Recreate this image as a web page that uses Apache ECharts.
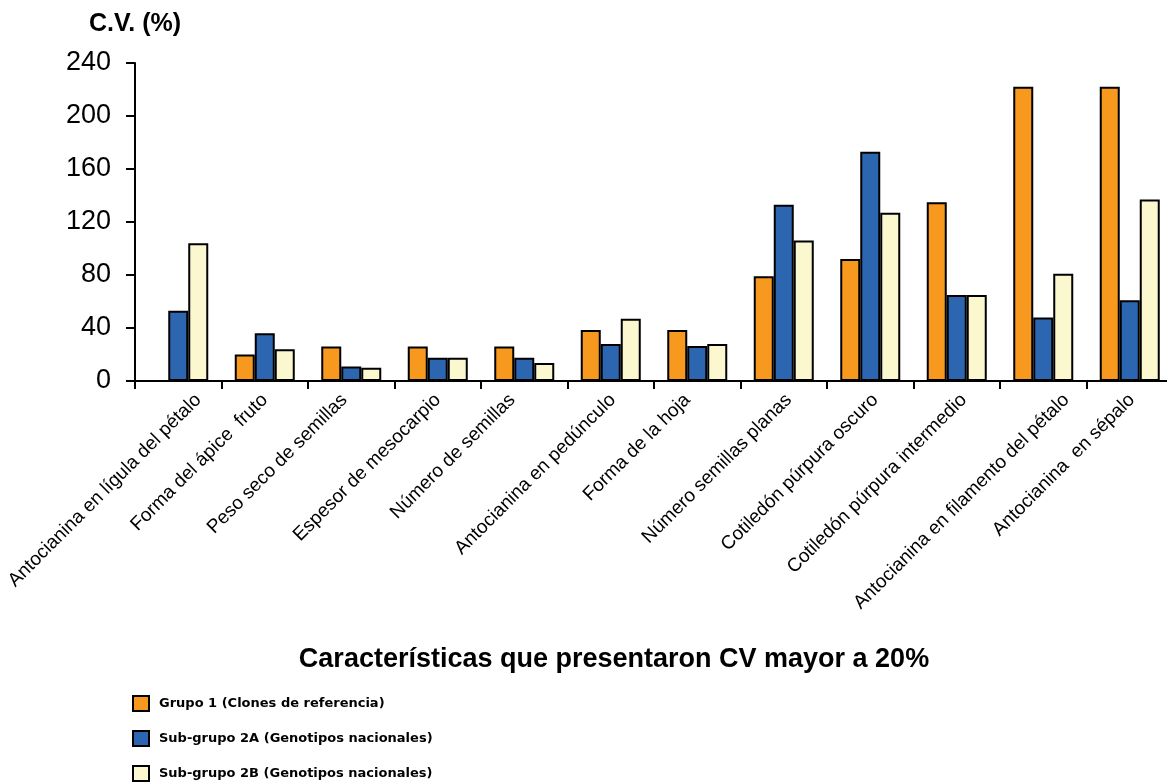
<!DOCTYPE html>
<html>
<head>
<meta charset="utf-8">
<script src="https://cdn.jsdelivr.net/npm/echarts@6/dist/echarts.min.js"></script>
<style>
html,body{margin:0;padding:0;background:#fff;}
#chart{width:1167px;height:784px;}
</style>
</head>
<body>
<div id="chart"></div>
<script>
const categories = [
  "Antocianina en lígula del pétalo",
  "Forma del ápice  fruto",
  "Peso seco de semillas",
  "Espesor de mesocarpio",
  "Número de semillas",
  "Antocianina en pedúnculo",
  "Forma de la hoja",
  "Número semillas planas",
  "Cotiledón púrpura oscuro",
  "Cotiledón púrpura intermedio",
  "Antocianina en filamento del pétalo",
  "Antocianina  en sépalo"
];
const seriesNames = [
  "Grupo 1 (Clones de referencia)",
  "Sub-grupo 2A (Genotipos nacionales)",
  "Sub-grupo 2B (Genotipos nacionales)"
];
const grupo1 = [null, 20, 26, 26, 26, 38.5, 38.5, 79, 92, 135, 222, 222];
const subgrupo2A = [53, 36, 11, 17.5, 17.5, 28, 26.5, 133, 173, 65, 48, 61];
const subgrupo2B = [104, 24, 10, 17.5, 13.5, 47, 28, 106, 127, 65, 81, 137];
const yTicks = { min: 0, max: 240, interval: 40 };
const yAxisTitle = "C.V. (%)";
const xAxisTitle = "Características que presentaron CV mayor a 20%";

// styling: horizontal nudge (px) of each rotated category label, as in the source figure
const labelNudge = [20, 0, -7, 0, -12, 2, -10, 5, 5, 7, 23, 2];

const colors = ["#F7991F", "#2D66B0", "#FBF8D0"];
const font = "'Liberation Sans', Arial, sans-serif";

const chart = echarts.init(document.getElementById('chart'), null, {renderer: 'canvas'});
const values = [grupo1, subgrupo2A, subgrupo2B];

const rich = {};
labelNudge.forEach((n, i) => {
  const d = n * Math.SQRT1_2;
  rich['n' + i] = {
    fontFamily: font, fontSize: 19, color: '#000',
    padding: [d > 0 ? 2 * d : 0, -d, d < 0 ? -2 * d : 0, 0]
  };
});

chart.setOption({
  backgroundColor: '#ffffff',
  animation: false,
  grid: { left: 135, top: 63, bottom: 403, width: 1038, containLabel: false, outerBoundsMode: 'none' },
  legend: {
    orient: 'vertical',
    left: 132,
    top: 695,
    padding: 0,
    height: 120,
    itemWidth: 16,
    itemHeight: 15,
    itemGap: 18,
    icon: 'rect',
    data: seriesNames,
    textStyle: { fontFamily: "'DejaVu Sans', sans-serif", fontWeight: 'bold', fontSize: 13, color: '#000', padding: [0, 0, 0, 5] }
  },
  xAxis: {
    type: 'category',
    data: categories,
    name: xAxisTitle,
    nameLocation: 'middle',
    nameGap: 265,
    nameTextStyle: { fontFamily: font, fontWeight: 'bold', fontSize: 27, color: '#000', padding: [0, 80, 0, 0] },
    axisLine: { lineStyle: { color: '#000', width: 2 } },
    axisTick: { show: true, length: 8, lineStyle: { color: '#000', width: 2 }, alignWithLabel: false },
    axisLabel: {
      rotate: 45, interval: 0, margin: 16, fontFamily: font, fontSize: 19, color: '#000',
      formatter: (v, i) => '{n' + i + '|' + v + '}',
      rich: rich
    },
    splitLine: { show: false }
  },
  yAxis: {
    type: 'value',
    min: yTicks.min,
    max: yTicks.max,
    interval: yTicks.interval,
    name: yAxisTitle,
    nameLocation: 'end',
    nameGap: 39,
    nameTextStyle: { fontFamily: font, fontWeight: 'bold', fontSize: 25, color: '#000', align: 'center', verticalAlign: 'middle' },
    axisLine: { show: true, lineStyle: { color: '#000', width: 2 } },
    axisTick: { show: true, length: 9, lineStyle: { color: '#000', width: 2 } },
    axisLabel: { margin: 24, fontFamily: font, fontSize: 27, color: '#000' },
    splitLine: { show: false }
  },
  series: seriesNames.map((n, i) => ({
    name: n,
    type: 'bar',
    data: values[i],
    barWidth: 20,
    barGap: '0%',
    itemStyle: { color: colors[i], borderColor: '#000', borderWidth: 2 }
  }))
});
</script>
</body>
</html>
